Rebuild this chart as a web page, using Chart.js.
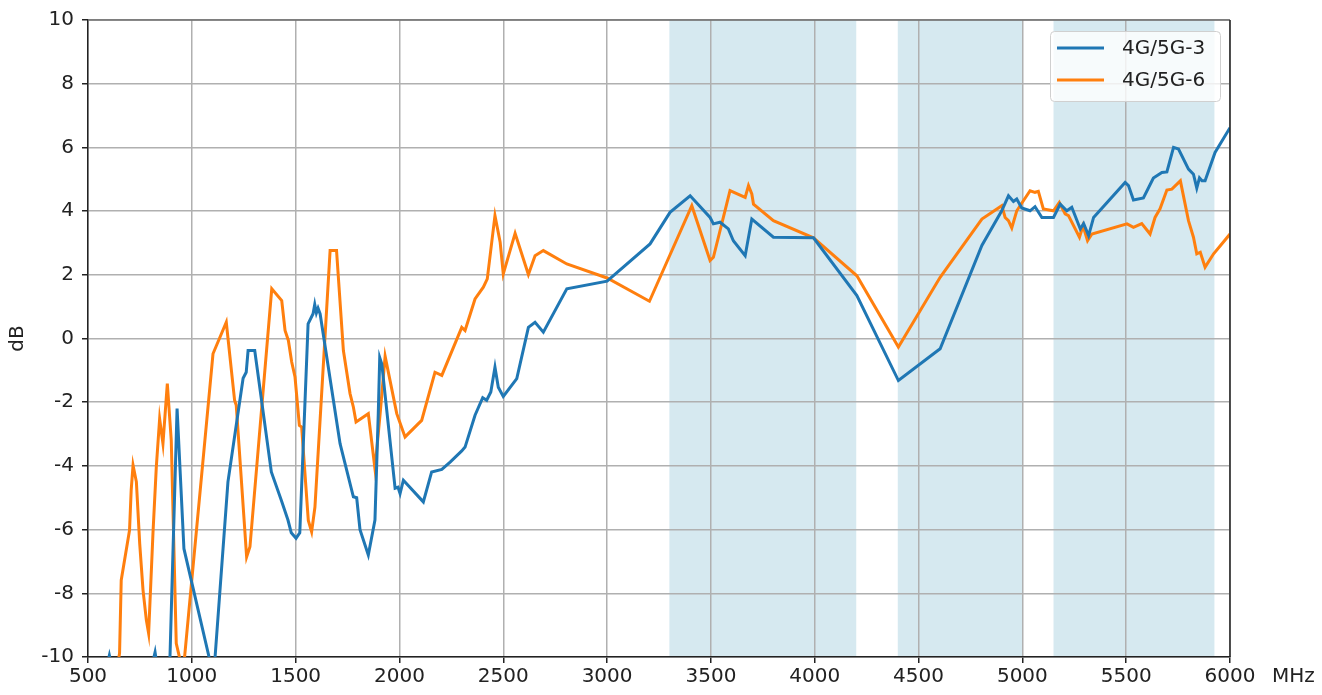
<!DOCTYPE html>
<html>
<head>
<meta charset="utf-8">
<script src="https://cdn.jsdelivr.net/npm/chart.js@4/dist/chart.umd.min.js"></script>
<style>
html,body{margin:0;padding:0;background:#fff;}
#wrap{width:1322px;height:695px;position:relative;}
</style>
</head>
<body>
<div id="wrap"><canvas id="c" width="1322" height="695"></canvas></div>
<script>
// ---- data ----
const seriesNames = ["4G/5G-3", "4G/5G-6"];
const freq3 = [580,603,625,800,823,840,885,893,929,962,1083,1098,1112,1174,1247,1262,1271,1303,1383,1431,1463,1479,1502,1520,1560,1584,1592,1600,1608,1618,1714,1778,1794,1810,1850,1882,1898,1905,1915,1979,1993,2003,2019,2115,2155,2204,2244,2300,2316,2364,2401,2420,2440,2460,2476,2500,2565,2621,2653,2693,2806,3000,3207,3303,3400,3496,3512,3544,3584,3608,3665,3697,3801,3994,4203,4403,4604,4805,4900,4933,4957,4973,4997,5037,5061,5094,5150,5182,5214,5238,5279,5295,5319,5343,5495,5511,5535,5583,5631,5672,5696,5728,5752,5800,5824,5840,5853,5865,5880,5928,6000];
const db3 = [-10.6,-9.95,-10.6,-10.5,-9.85,-10.6,-10.6,-10.4,-2.2,-6.6,-10.0,-10.6,-10.0,-4.5,-1.25,-1.06,-0.38,-0.38,-4.19,-5.08,-5.7,-6.1,-6.27,-6.1,0.46,0.78,1.07,0.8,0.95,0.77,-3.3,-4.97,-5.0,-6.0,-6.8,-5.7,-2.36,-0.6,-0.8,-4.7,-4.67,-4.87,-4.45,-5.13,-4.19,-4.11,-3.88,-3.53,-3.41,-2.41,-1.86,-1.94,-1.68,-0.9,-1.53,-1.82,-1.26,0.35,0.51,0.2,1.56,1.8,2.97,3.96,4.48,3.8,3.6,3.65,3.44,3.07,2.6,3.75,3.18,3.16,1.35,-1.32,-0.32,2.92,4.0,4.48,4.3,4.38,4.1,4.01,4.14,3.8,3.8,4.22,4.01,4.12,3.44,3.61,3.23,3.8,4.9,4.8,4.35,4.41,5.04,5.21,5.23,6.0,5.95,5.32,5.16,4.72,5.04,4.95,4.95,5.84,6.62];
const freq6 = [630,652,660,700,708,717,733,749,765,781,792,813,829,845,861,882,901,925,958,1102,1166,1206,1214,1264,1280,1385,1433,1449,1465,1481,1497,1518,1529,1561,1577,1593,1666,1697,1730,1762,1778,1791,1850,1882,1907,1931,1987,2027,2107,2171,2204,2300,2316,2364,2404,2423,2460,2485,2500,2557,2621,2653,2693,2806,3000,3204,3408,3496,3512,3592,3665,3681,3697,3705,3801,3994,4203,4403,4604,4805,4901,4917,4933,4949,4973,5037,5061,5077,5101,5150,5178,5206,5222,5275,5292,5314,5335,5504,5535,5575,5615,5639,5663,5696,5720,5761,5800,5824,5840,5857,5880,5921,6000];
const db6 = [-10.8,-9.88,-7.59,-6.02,-4.76,-3.98,-4.5,-6.44,-7.9,-8.84,-9.26,-6.1,-4.03,-2.52,-3.3,-1.42,-3.2,-9.57,-10.5,-0.48,0.51,-1.94,-2.1,-6.86,-6.54,1.56,1.19,0.25,-0.06,-0.74,-1.21,-2.73,-2.78,-5.71,-6.07,-5.29,2.76,2.76,-0.38,-1.73,-2.15,-2.62,-2.36,-4.09,-2.36,-0.56,-2.36,-3.09,-2.57,-1.06,-1.16,0.35,0.25,1.24,1.61,1.87,3.86,3.02,2.03,3.3,2.01,2.6,2.76,2.34,1.9,1.17,4.17,2.45,2.55,4.64,4.43,4.8,4.54,4.22,3.7,3.16,1.97,-0.27,1.92,3.75,4.17,3.8,3.7,3.47,4.01,4.64,4.59,4.62,4.07,4.01,4.27,3.91,3.86,3.18,3.54,3.07,3.28,3.6,3.49,3.61,3.28,3.8,4.07,4.66,4.69,4.95,3.7,3.18,2.66,2.71,2.24,2.66,3.28];
const bandStart = [3300, 4400, 5150];
const bandEnd = [4200, 5000, 5925];
const xTickMin = 500, xTickMax = 6000, xTickStep = 500;
const yTickMin = -10, yTickMax = 10, yTickStep = 2;
const yTitle = "dB";
const xUnit = "MHz";

const FONT = "'DejaVu Sans', sans-serif";
const colors = ["#1f77b4", "#ff7f0e"];

function pts(xs, ys){ return xs.map((x,i)=>({x:x, y:ys[i]})); }

const bandsPlugin = {
  id: 'bands',
  beforeDraw(chart){
    const {ctx, chartArea:a, scales:{x}} = chart;
    ctx.save();
    ctx.fillStyle = 'rgb(214,233,240)';
    for(let i=0;i<bandStart.length;i++){
      const x0 = x.getPixelForValue(bandStart[i]);
      const x1 = x.getPixelForValue(bandEnd[i]);
      ctx.fillRect(x0, a.top, x1-x0, a.bottom-a.top);
    }
    ctx.restore();
  }
};

const framePlugin = {
  id: 'frame',
  afterDatasetsDraw(chart){
    const {ctx, chartArea:a} = chart;
    ctx.save();
    ctx.lineWidth = 1.5;
    ctx.strokeStyle = '#6e6e6e';
    ctx.beginPath(); ctx.moveTo(a.left, a.top); ctx.lineTo(a.right, a.top); ctx.stroke();
    ctx.strokeStyle = '#222';
    ctx.beginPath(); ctx.moveTo(a.right, a.top); ctx.lineTo(a.right, a.bottom); ctx.stroke();
    // legend
    const bx = a.right - 180, by = a.top + 11, bw = 170, bh = 70;
    ctx.fillStyle = 'rgba(255,255,255,0.8)';
    ctx.strokeStyle = '#d0d0d0';
    ctx.lineWidth = 1;
    ctx.beginPath();
    if (ctx.roundRect) ctx.roundRect(bx+0.5, by+0.5, bw, bh, 4); else ctx.rect(bx+0.5, by+0.5, bw, bh);
    ctx.fill(); ctx.stroke();
    ctx.font = "20px " + FONT;
    ctx.textBaseline = 'middle';
    ctx.textAlign = 'left';
    chart.data.datasets.forEach((ds, i) => {
      const yy = by + 17 + i*32;
      ctx.strokeStyle = ds.borderColor;
      ctx.lineWidth = 3;
      ctx.beginPath(); ctx.moveTo(bx+7, yy); ctx.lineTo(bx+54, yy); ctx.stroke();
      ctx.fillStyle = '#222';
      ctx.fillText(ds.label, bx+72, yy+1);
    });
    ctx.fillStyle = '#222';
    ctx.fillText(xUnit, a.right + 42, a.bottom + 20);
    ctx.restore();
  }
};

new Chart(document.getElementById('c'), {
  type: 'line',
  data: {
    datasets: [
      {label: seriesNames[0], data: pts(freq3, db3), borderColor: colors[0], backgroundColor: colors[0], borderWidth: 3, pointRadius: 0, tension: 0, fill: false},
      {label: seriesNames[1], data: pts(freq6, db6), borderColor: colors[1], backgroundColor: colors[1], borderWidth: 3, pointRadius: 0, tension: 0, fill: false}
    ]
  },
  options: {
    responsive: false,
    animation: false,
    layout: {padding: {top: 19, right: 92, left: 0, bottom: 0}},
    plugins: {legend: {display: false}, tooltip: {enabled: false}, title: {display: false}},
    scales: {
      x: {
        type: 'linear', min: xTickMin, max: xTickMax,
        afterFit(s){ s.height = 38; },
        ticks: {stepSize: xTickStep, color: '#222', font: {family: FONT, size: 20}, padding: 2, maxRotation: 0, autoSkip: false,
                callback: v => String(v)},
        grid: {color: '#b0b0b0', lineWidth: 1.5, tickColor: '#222', tickLength: 6, drawTicks: true},
        border: {color: '#222', width: 1.5}
      },
      y: {
        min: yTickMin, max: yTickMax,
        afterFit(s){ s.width = 88; },
        ticks: {stepSize: yTickStep, color: '#222', font: {family: FONT, size: 20}, padding: 8,
                callback: v => String(v)},
        grid: {color: '#b0b0b0', lineWidth: 1.5, tickColor: '#222', tickLength: 6, drawTicks: true},
        border: {color: '#222', width: 1.5},
        title: {display: true, text: yTitle, color: '#222', font: {family: FONT, size: 20}, padding: {top: 6, bottom: 4}}
      }
    }
  },
  plugins: [bandsPlugin, framePlugin]
});
</script>
</body>
</html>
